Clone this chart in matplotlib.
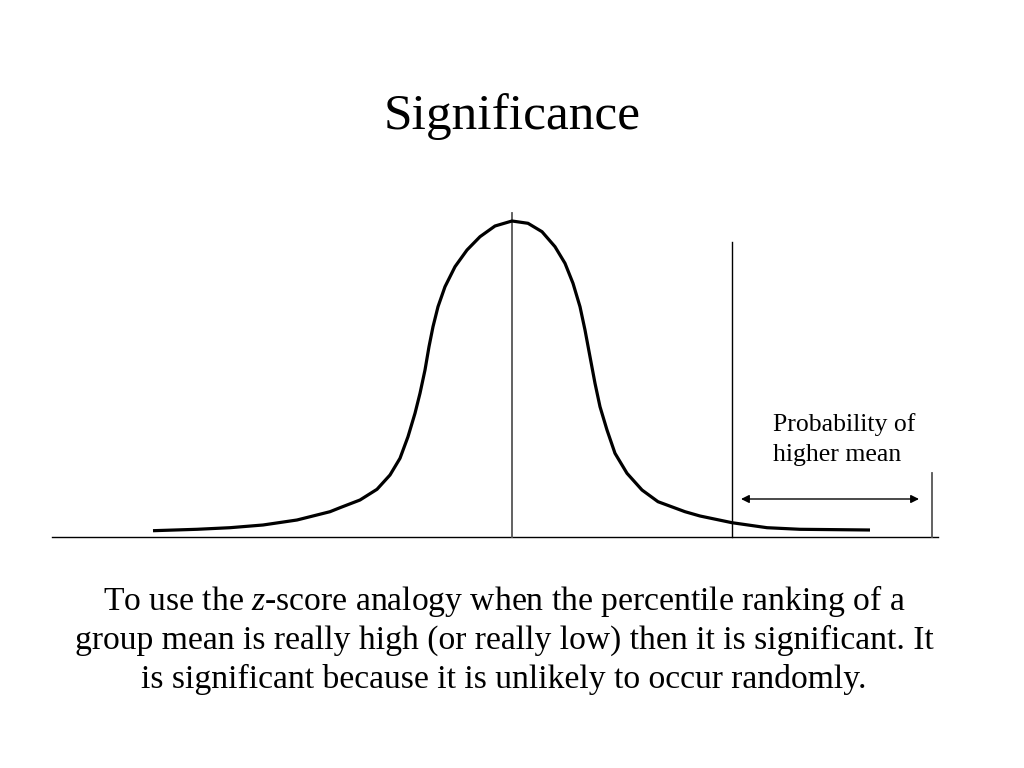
import numpy as np
import matplotlib.pyplot as plt

plt.rcParams['font.family'] = ['Liberation Serif', 'DejaVu Serif']
plt.rcParams['mathtext.fontset'] = 'custom'
plt.rcParams['mathtext.rm'] = 'Liberation Serif'
plt.rcParams['mathtext.it'] = 'Liberation Serif:italic'

curve_x = [153, 197, 230, 263, 297, 330, 340, 360, 377, 390, 400, 408, 415, 420, 425,
           429, 433, 438, 445, 455, 467, 480, 495, 512, 528, 542, 555, 565, 573, 580,
           585, 590, 595, 600, 607, 615, 627, 642, 658, 685, 700, 732, 767, 800, 870]
curve_y = [530.7, 529.3, 527.7, 525, 520, 511.7, 507.7, 500, 489.3, 475, 458.3, 436.7,
           413.3, 393.3, 370, 346.7, 326.7, 306.7, 286.7, 266.7, 250, 236.7, 226, 221,
           223.3, 231.7, 246.7, 263.3, 283.3, 306.7, 330, 356.7, 383.3, 406.7, 430,
           453.3, 473.3, 490, 501.7, 511.7, 516, 522.7, 527.7, 529.3, 530]

baseline_y = 537
baseline_x = [52, 938]
mean_x = 512
mean_top = 213
cutoff_x = 732
cutoff_top = 242
tail_end_x = 932
tail_end_top = 473
arrow_x = [741, 919]
arrow_y = 499

title = "Significance"
note_lines = ["Probability of", "higher mean"]
note_baselines = [431, 461]
caption_lines = ["To use the $\\it{z}$-score analogy when the percentile ranking of a",
                 "group mean is really high (or really low) then it is significant. It",
                 "is significant because it is unlikely to occur randomly."]
caption_baselines = [610, 649, 688]

fig = plt.figure(figsize=(10.24, 7.68), dpi=100)
ax = fig.add_axes([0, 0, 1, 1])
ax.set_xlim(0, 1024)
ax.set_ylim(768, 0)
ax.axis('off')

ax.plot(baseline_x, [baseline_y, baseline_y], color='black', lw=1.0)
ax.plot([mean_x, mean_x], [mean_top, baseline_y], color='#555555', lw=1.3)
ax.plot([cutoff_x, cutoff_x], [cutoff_top, baseline_y], color='black', lw=1.0)
ax.plot([tail_end_x, tail_end_x], [tail_end_top, baseline_y], color='#555555', lw=1.3)
ax.plot(curve_x, curve_y, color='black', lw=2.3, solid_capstyle='butt',
        solid_joinstyle='round')

ax.annotate('', xy=(arrow_x[0], arrow_y), xytext=(arrow_x[1], arrow_y),
            arrowprops=dict(arrowstyle='<|-|>', color='black', lw=1.0,
                            mutation_scale=12, shrinkA=0, shrinkB=0))

ax.text(512, 129, title, ha='center', va='baseline', fontsize=37)
for line, yb in zip(note_lines, note_baselines):
    ax.text(773, yb, line, ha='left', va='baseline', fontsize=18.5)
for line, yb in zip(caption_lines, caption_baselines):
    ax.text(504, yb, line, ha='center', va='baseline', fontsize=24.2)

fig.savefig('out.png', dpi=100)
